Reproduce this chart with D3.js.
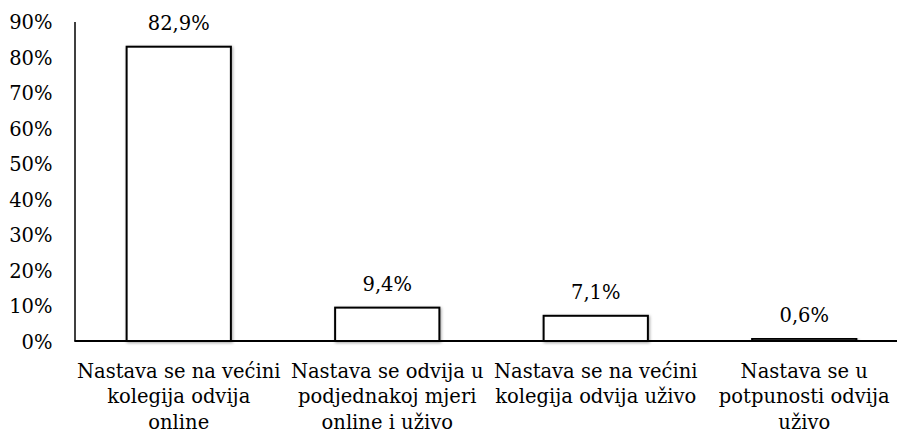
<!DOCTYPE html>
<html>
<head>
<meta charset="utf-8">
<script src="https://cdn.jsdelivr.net/npm/d3@7"></script>
<style>
  body { margin: 0; background: #fff; }
</style>
</head>
<body>
<svg id="chart" width="897" height="434"></svg>
<script>
'use strict';

// podaci
var categories = [
    'Nastava se na većini kolegija odvija online',
    'Nastava se odvija u podjednakoj mjeri online i uživo',
    'Nastava se na većini kolegija odvija uživo',
    'Nastava se u potpunosti odvija uživo'
];
var categoryLines = [
    ['Nastava se na većini', 'kolegija odvija', 'online'],
    ['Nastava se odvija u', 'podjednakoj mjeri', 'online i uživo'],
    ['Nastava se na većini', 'kolegija odvija uživo'],
    ['Nastava se u', 'potpunosti odvija', 'uživo']
];
var values = [0.829, 0.094, 0.071, 0.006];
var valueLabels = ['82,9%', '9,4%', '7,1%', '0,6%'];
var yTicks = [0, 0.1, 0.2, 0.3, 0.4, 0.5, 0.6, 0.7, 0.8, 0.9];

var svg = d3.select('#chart');
var fontSize = 19.5;
var fontFamily = '"DejaVu Serif", serif';

var x = d3.scaleBand()
    .domain(categories)
    .range([74.5, 908.5])
    .paddingInner(0.5)
    .paddingOuter(0.25);

var y = d3.scaleLinear()
    .domain([0, 0.9])
    .range([341, 21.5]);

// sjena za stupce
var defs = svg.append('defs');
var filter = defs.append('filter').attr('id', 'shadow')
    .attr('x', '-10%').attr('y', '-10%').attr('width', '120%').attr('height', '130%');
filter.append('feDropShadow')
    .attr('dx', 1).attr('dy', 1)
    .attr('stdDeviation', 1.5)
    .attr('flood-color', '#000')
    .attr('flood-opacity', 0.35);

// os Y
var axisY = d3.axisLeft(y)
    .tickValues(yTicks)
    .tickSize(0)
    .tickPadding(22)
    .tickFormat(d3.format('.0%'));

var gy = svg.append('g')
    .attr('class', 'axis axis-y')
    .attr('transform', 'translate(74.5,0)')
    .call(axisY)
    .attr('font-family', fontFamily)
    .attr('font-size', fontSize);
gy.select('.domain').attr('stroke', '#000').attr('stroke-width', 1.5);
gy.selectAll('text')
    .attr('fill', '#000')
    .attr('dy', '0.36em');

// stupci
svg.append('g').selectAll('rect')
    .data(values)
    .enter().append('rect')
    .attr('x', function (d, i) { return x(categories[i]); })
    .attr('y', function (d) { return y(d); })
    .attr('width', x.bandwidth())
    .attr('height', function (d) { return y(0) - y(d); })
    .attr('fill', '#fff')
    .attr('stroke', '#000')
    .attr('stroke-width', 2)
    .attr('filter', 'url(#shadow)');

// os X (osnovna linija)
svg.append('line')
    .attr('x1', 74.5).attr('x2', 897)
    .attr('y1', y(0)).attr('y2', y(0))
    .attr('stroke', '#000')
    .attr('stroke-width', 2);

// oznake vrijednosti
svg.append('g')
    .attr('font-family', fontFamily)
    .attr('font-size', fontSize)
    .selectAll('text')
    .data(values)
    .enter().append('text')
    .attr('x', function (d, i) { return x(categories[i]) + x.bandwidth() / 2; })
    .attr('y', function (d) { return y(d) - 17; })
    .attr('text-anchor', 'middle')
    .text(function (d, i) { return valueLabels[i]; });

// kategorije
var axisX = d3.axisBottom(x).tickSize(0).tickFormat('');
var gx = svg.append('g')
    .attr('class', 'axis axis-x')
    .attr('transform', 'translate(0,' + y(0) + ')')
    .call(axisX)
    .attr('font-family', fontFamily)
    .attr('font-size', fontSize);
gx.select('.domain').remove();
gx.selectAll('.tick text').each(function (d, i) {
    var t = d3.select(this)
        .attr('y', 0)
        .attr('dy', null)
        .attr('fill', '#000');
    categoryLines[i].forEach(function (line, j) {
        t.append('tspan')
            .attr('x', 0)
            .attr('y', 36.5 + j * 25.5)
            .text(line);
    });
});
</script>
</body>
</html>
